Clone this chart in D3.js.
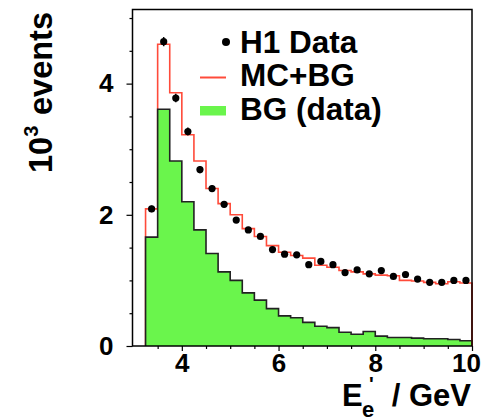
<!DOCTYPE html>
<html>
<head>
<meta charset="utf-8">
<script src="https://cdn.jsdelivr.net/npm/d3@7/dist/d3.min.js"></script>
<style>
  html, body { margin: 0; padding: 0; background: #ffffff; }
  svg { display: block; }
  text { font-family: "Liberation Sans", Arial, Helvetica, sans-serif; font-weight: bold; fill: #000; }
</style>
</head>
<body>
<svg id="chart" width="485" height="417"></svg>
<script>
// ---- data (E'_e bins of 0.25 GeV from 3.25 to 10 GeV), values in 10^3 events ----
const binEdgesLow = [3.25, 3.5, 3.75, 4.0, 4.25, 4.5, 4.75, 5.0, 5.25, 5.5, 5.75, 6.0, 6.25, 6.5,
                     6.75, 7.0, 7.25, 7.5, 7.75, 8.0, 8.25, 8.5, 8.75, 9.0, 9.25, 9.5, 9.75];
const binWidth = 0.25;
const h1Data = [2.09, 4.64, 3.78, 3.27, 2.69, 2.40, 2.16, 1.92, 1.77, 1.67, 1.47, 1.40, 1.39, 1.24,
                1.29, 1.24, 1.12, 1.16, 1.10, 1.15, 1.06, 1.09, 1.02, 0.97, 0.97, 1.00, 1.00];
const h1Err  = [0.05, 0.07, 0.065, 0.06, 0.055, 0.05, 0.05, 0.045, 0.045, 0.04, 0.04, 0.04, 0.04, 0.035,
                0.035, 0.035, 0.035, 0.035, 0.035, 0.035, 0.03, 0.03, 0.03, 0.03, 0.03, 0.03, 0.03];
const mcPlusBg = [2.09, 4.60, 3.86, 3.22, 2.82, 2.40, 2.17, 2.00, 1.79, 1.67, 1.53, 1.43, 1.38, 1.34,
                  1.23, 1.20, 1.15, 1.13, 1.10, 1.08, 1.07, 1.00, 0.99, 0.97, 0.95, 0.98, 0.96];
const bgData = [1.66, 3.61, 2.82, 2.20, 1.77, 1.41, 1.13, 1.00, 0.81, 0.70, 0.57, 0.46, 0.43, 0.36,
                0.30, 0.28, 0.21, 0.18, 0.22, 0.15, 0.13, 0.13, 0.12, 0.11, 0.11, 0.10, 0.08];
const xTickMajor = [4, 6, 8, 10];
const xTickMinor = [3.5, 4.5, 5, 5.5, 6.5, 7, 7.5, 8.5, 9, 9.5];
const yTickMajor = [0, 2, 4];
const yTickMinor = [0.5, 1, 1.5, 2.5, 3, 3.5, 4.5, 5];
const legendLabels = ["H1 Data", "MC+BG", "BG (data)"];

// ---- layout ----
const svg = d3.select("#chart");
const x = d3.scaleLinear().domain([2.98, 10]).range([132.5, 472]);
const y = d3.scaleLinear().domain([0, 5.13]).range([346, 9.5]);

const RED = "#ff4b3a";
const GREEN = "#6af54c";

// step path builder
function stepPoints(vals) {
  const pts = [[x(binEdgesLow[0]), y(0)]];
  vals.forEach((v, i) => {
    pts.push([x(binEdgesLow[i]), y(v)]);
    pts.push([x(binEdgesLow[i] + binWidth), y(v)]);
  });
  pts.push([x(binEdgesLow[binEdgesLow.length - 1] + binWidth), y(0)]);
  return pts;
}
const line = d3.line();

// MC+BG red histogram
svg.append("path")
  .attr("d", line(stepPoints(mcPlusBg)))
  .attr("fill", "none").attr("stroke", RED).attr("stroke-width", 1.6);

// BG green filled histogram
svg.append("path")
  .attr("d", line(stepPoints(bgData)) + "Z")
  .attr("fill", GREEN).attr("stroke", "none");
svg.append("path")
  .attr("d", line(stepPoints(bgData)))
  .attr("fill", "none").attr("stroke", "#222").attr("stroke-width", 1.6);

// red right edge drawn on top (as in reference)
svg.append("line")
  .attr("x1", x(10)).attr("x2", x(10))
  .attr("y1", y(mcPlusBg[mcPlusBg.length - 1])).attr("y2", y(0))
  .attr("stroke", RED).attr("stroke-width", 1.6);

// data points with error bars
const pts = svg.append("g");
h1Data.forEach((v, i) => {
  const cx = x(binEdgesLow[i] + binWidth / 2);
  pts.append("line")
    .attr("x1", cx).attr("x2", cx)
    .attr("y1", y(v - h1Err[i])).attr("y2", y(v + h1Err[i]))
    .attr("stroke", "#000").attr("stroke-width", 1.5);
  pts.append("circle").attr("cx", cx).attr("cy", y(v)).attr("r", 3.6).attr("fill", "#000");
});

// frame
svg.append("rect")
  .attr("x", 132.5).attr("y", 9.5)
  .attr("width", 472 - 132.5).attr("height", 346 - 9.5)
  .attr("fill", "none").attr("stroke", "#000").attr("stroke-width", 1.5);

// axes
const xAxisMajor = d3.axisBottom(x).tickValues(xTickMajor).tickSize(5).tickPadding(3)
  .tickFormat(d3.format("d"));
const gx = svg.append("g").attr("transform", "translate(0,346)").call(xAxisMajor);
gx.select(".domain").remove();
gx.selectAll("text").attr("font-size", 26).style("font-family", "'Liberation Sans', Arial, sans-serif").attr("font-weight", "bold");
// last label pulled inward so it stays inside the picture, as in the reference
gx.selectAll("text").filter(d => d === 10).attr("x", -6);
gx.selectAll("line").attr("stroke-width", 1.2);
const gxm = svg.append("g").attr("transform", "translate(0,346)")
  .call(d3.axisBottom(x).tickValues(xTickMinor).tickSize(3).tickFormat(""));
gxm.select(".domain").remove();
gxm.selectAll("line").attr("stroke-width", 1.2);

const gy = svg.append("g").attr("transform", "translate(132.5,0)")
  .call(d3.axisLeft(y).tickValues(yTickMajor).tickSize(6).tickPadding(13).tickFormat(d3.format("d")));
gy.select(".domain").remove();
gy.selectAll("text").attr("font-size", 26).style("font-family", "'Liberation Sans', Arial, sans-serif").attr("font-weight", "bold");
gy.selectAll("line").attr("stroke-width", 1.2);
const gym = svg.append("g").attr("transform", "translate(132.5,0)")
  .call(d3.axisLeft(y).tickValues(yTickMinor).tickSize(3).tickFormat(""));
gym.select(".domain").remove();
gym.selectAll("line").attr("stroke-width", 1.2);

// legend
const lg = svg.append("g");
lg.append("circle").attr("cx", 226).attr("cy", 42).attr("r", 4).attr("fill", "#000");
lg.append("line").attr("x1", 200).attr("x2", 226).attr("y1", 77.5).attr("y2", 77.5)
  .attr("stroke", RED).attr("stroke-width", 2);
lg.append("rect").attr("x", 200).attr("y", 106).attr("width", 26).attr("height", 9.5).attr("fill", GREEN);
const legY = [53, 86, 119.5];
legendLabels.forEach((t, i) => {
  lg.append("text").attr("x", 240).attr("y", legY[i]).attr("font-size", 31.5).text(t);
});

// x-axis title: E'_e / GeV
svg.append("text").attr("x", 342).attr("y", 406).attr("font-size", 31).text("E");
svg.append("text").attr("x", 369).attr("y", 391).attr("font-size", 20).text("'");
svg.append("text").attr("x", 362).attr("y", 417).attr("font-size", 22).text("e");
svg.append("text").attr("x", 471).attr("y", 406).attr("font-size", 31)
  .attr("text-anchor", "end").text("/ GeV");

// y-axis title: 10^3 events
const yt = svg.append("text")
  .attr("transform", "translate(52,173) rotate(-90)")
  .attr("font-size", 32.5);
yt.append("tspan").text("10");
yt.append("tspan").attr("font-size", 20).attr("dy", -14).text("3");
yt.append("tspan").attr("dy", 14).attr("x", 58).text("events");
</script>
</body>
</html>
